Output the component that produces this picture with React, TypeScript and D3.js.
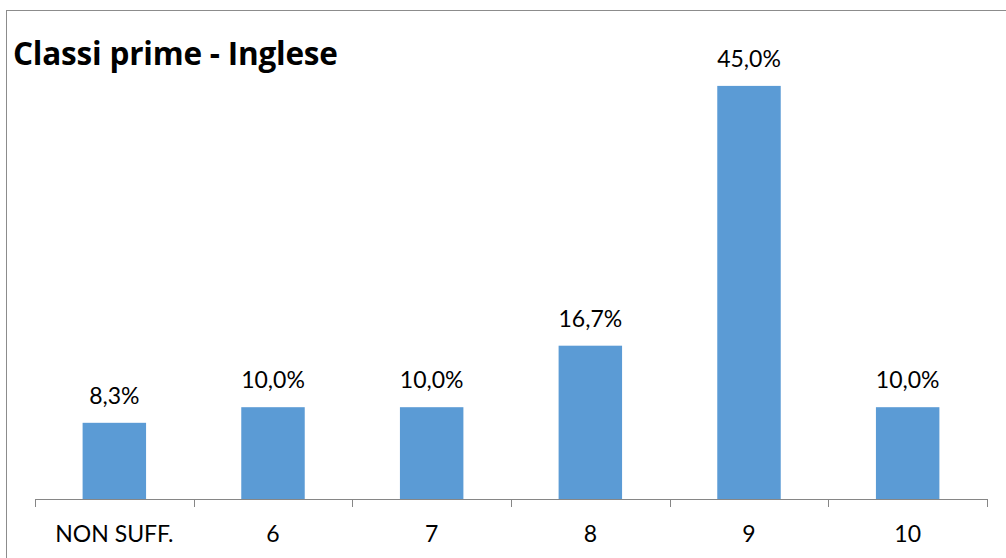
import React from "react";
import * as d3 from "d3";

const categories = ["NON SUFF.", "6", "7", "8", "9", "10"];
const values = [8.3, 10.0, 10.0, 16.7, 45.0, 10.0];
const title = "Classi prime - Inglese";

const W = 1006;
const H = 558;
const FONT = "Lato, 'Open Sans', sans-serif";
const TITLE_FONT = "'Open Sans', Lato, sans-serif";

export default function App() {
  const x = d3.scaleBand<string>().domain(categories).range([35, 987]).paddingInner(0).paddingOuter(0);
  const y = d3.scaleLinear().domain([0, 50]).range([499, 40]);
  const bw = x.bandwidth() * 0.4;
  const fmt = (v: number) => v.toFixed(1).replace(".", ",") + "%";
  const tickXs = [...categories.map((c) => x(c)!), 987];

  return (
    <svg width={W} height={H} style={{ position: "absolute", left: 0, top: 0, background: "#fff" }}>
      <rect x={6.5} y={10.5} width={1010} height={600} fill="#fff" stroke="#8c8c8c" strokeWidth={1} />
      <text x={13} y={65} fontFamily={TITLE_FONT} fontWeight="bold" fontSize={31.5} fill="#000" letterSpacing={-0.2}>
        {title}
      </text>
      {categories.map((c, i) => {
        const cx = x(c)! + x.bandwidth() / 2;
        return (
          <g key={c}>
            <rect x={cx - bw / 2} y={y(values[i])} width={bw} height={y(0) - y(values[i])} fill="#5B9BD5" />
            <text x={cx} y={y(values[i]) - 19} textAnchor="middle" fontFamily={FONT} fontSize={23} fill="#000">
              {fmt(values[i])}
            </text>
            <text x={cx} y={542} textAnchor="middle" fontFamily={FONT} fontSize={23} fill="#000">
              {c}
            </text>
          </g>
        );
      })}
      <line x1={35} x2={987} y1={499.5} y2={499.5} stroke="#868686" strokeWidth={1} />
      {tickXs.map((tx, i) => (
        <line key={i} x1={Math.round(tx) + 0.5} x2={Math.round(tx) + 0.5} y1={499} y2={507} stroke="#868686" strokeWidth={1} />
      ))}
    </svg>
  );
}
